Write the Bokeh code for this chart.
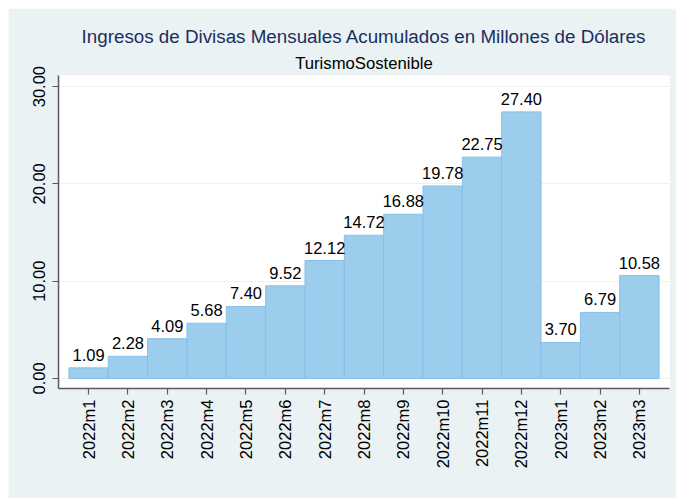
import math
from bokeh.plotting import figure
from bokeh.models import Range1d, FixedTicker, ColumnDataSource, Title
from bokeh.core.properties import value
from bokeh.embed import file_html
from bokeh.resources import INLINE

months = ["2022m1", "2022m2", "2022m3", "2022m4", "2022m5", "2022m6", "2022m7",
          "2022m8", "2022m9", "2022m10", "2022m11", "2022m12", "2023m1", "2023m2", "2023m3"]
values = [1.09, 2.28, 4.09, 5.68, 7.40, 9.52, 12.12, 14.72, 16.88, 19.78, 22.75, 27.40,
          3.70, 6.79, 10.58]
y_ticks = [0, 10, 20, 30]

xs = list(range(1, len(months) + 1))
src = ColumnDataSource(dict(x=xs, top=values, lab=["%.2f" % v for v in values]))

FONT = "Liberation Sans"
BG = "#EAF2F3"

p = figure(width=668, height=490, output_backend="svg", toolbar_location=None,
           x_range=Range1d(0.235, 15.765), y_range=Range1d(-1.03, 31.14),
           min_border_left=50, min_border_right=7, min_border_top=67, min_border_bottom=110)
p.margin = (8, 0, 0, 8)
p.background_fill_color = "white"
p.border_fill_color = BG
p.outline_line_color = None

p.add_layout(Title(text="TurismoSostenible", align="center", text_font=FONT,
                   text_font_size="16.7px", text_font_style="normal", text_color="black",
                   standoff=6), "above")
p.add_layout(Title(text="Ingresos de Divisas Mensuales Acumulados en Millones de Dólares",
                   align="center", text_font=FONT, text_font_size="18.8px",
                   text_font_style="normal", text_color="#1C2E5E", standoff=3), "above")

p.vbar(x="x", top="top", bottom=0, width=1.0, source=src,
       fill_color="#9DCDEC", line_color="#86BFE8", line_width=1)
p.text(x="x", y="top", text="lab", source=src, text_align="center",
       text_baseline="alphabetic", y_offset=-13, text_font=value(FONT),
       text_font_size="16.5px", text_color="black")

p.xgrid.visible = False
p.ygrid.ticker = FixedTicker(ticks=y_ticks)
p.ygrid.grid_line_color = BG
p.ygrid.grid_line_width = 1

p.yaxis.ticker = FixedTicker(ticks=y_ticks)
p.yaxis.major_label_overrides = {t: "%.2f" % t for t in y_ticks}
p.yaxis.major_label_orientation = "vertical"
p.xaxis.ticker = FixedTicker(ticks=xs)
p.xaxis.major_label_overrides = {x: m for x, m in zip(xs, months)}
p.xaxis.major_label_orientation = math.pi / 2

for ax in (p.xaxis, p.yaxis):
    ax.axis_line_color = "#5A5A5A"
    ax.axis_line_width = 1.5
    ax.major_tick_line_color = "#5A5A5A"
    ax.major_tick_line_width = 1.2
    ax.major_tick_in = 0
    ax.major_tick_out = 6
    ax.minor_tick_line_color = None
    ax.major_label_text_font = FONT
    ax.major_label_text_font_size = "16.5px"
    ax.major_label_text_color = "black"
p.xaxis.major_label_standoff = 5
p.yaxis.major_label_standoff = 7

open("out.html", "w").write(file_html(p, INLINE))
